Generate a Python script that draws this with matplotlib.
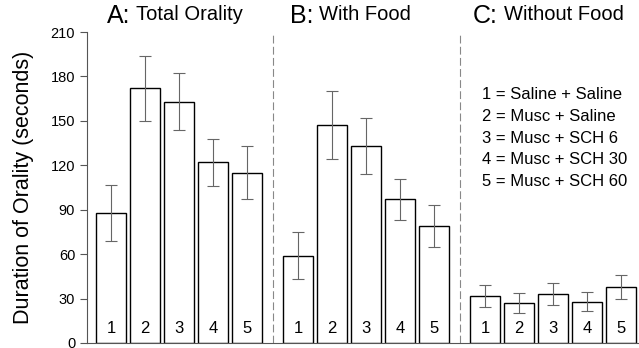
import matplotlib
matplotlib.use("Agg")
import matplotlib.pyplot as plt
import numpy as np

plt.rcParams['font.family'] = ['Liberation Sans', 'DejaVu Sans']

groups = ["A", "B", "C"]
group_titles = ["Total Orality", "With Food", "Without Food"]
bar_labels = ["1", "2", "3", "4", "5"]
total_vals = [88, 172, 163, 122, 115]
total_err = [19, 22, 19, 16, 18]
food_vals = [59, 147, 133, 97, 79]
food_err = [16, 23, 19, 14, 14]
nofood_vals = [32, 27, 33, 28, 38]
nofood_err = [7.5, 7, 7.5, 6.5, 8]
legend_lines = ["1 = Saline + Saline", "2 = Musc + Saline", "3 = Musc + SCH 6",
                "4 = Musc + SCH 30", "5 = Musc + SCH 60"]
yticks = [0, 30, 60, 90, 120, 150, 180, 210]

W, H = 639, 348
fig = plt.figure(figsize=(W / 100, H / 100), dpi=100)
ax = fig.add_axes([87 / W, 1 - 343 / H, 1 - 87 / W, (343 - 32) / H])

vals = [total_vals, food_vals, nofood_vals]
errs = [total_err, food_err, nofood_err]
offsets = [0, 5.5, 11]
title_starts = [-0.12, 5.26, 10.65]
for g in range(3):
    x = np.arange(5) + offsets[g]
    ax.bar(x, vals[g], width=0.9, color="white", edgecolor="black", linewidth=1.0, zorder=2)
    ax.errorbar(x, vals[g], yerr=errs[g], fmt="none", ecolor="#666666",
                elinewidth=0.8, capsize=4, capthick=0.8, zorder=3)
    for xi, lab in zip(x, bar_labels):
        ax.text(xi, 5, lab, ha="center", va="bottom", fontsize=12, zorder=4)
    t = ax.annotate(groups[g] + ":", (title_starts[g], 213), xycoords="data",
                    ha="left", va="bottom", fontsize=18, annotation_clip=False)
    ax.annotate(group_titles[g], xy=(1, 0), xycoords=t, xytext=(4, 2.5),
                textcoords="offset points", ha="left", va="bottom", fontsize=14.5)

for xd in [(4 + 5.5) / 2, (9.5 + 11) / 2]:
    ax.plot([xd, xd], [0, 210], color="#888888", linestyle=(0, (7, 3)), linewidth=0.8,
            zorder=1, clip_on=False)

for i, line in enumerate(legend_lines):
    ax.text(10.91, 168 - i * 14.8, line, ha="left", va="center", fontsize=12)

ax.set_xlim(-0.71, 15.53)
ax.set_ylim(0, 210)
ax.set_yticks(yticks)
ax.tick_params(axis="y", labelsize=10.5, length=5, width=0.8, direction="out", color="#555555")
ax.tick_params(axis="x", length=0, labelbottom=False)
ax.spines["top"].set_visible(False)
ax.spines["right"].set_visible(False)
ax.spines["left"].set_color("#555555")
ax.spines["left"].set_linewidth(0.8)
ax.spines["bottom"].set_color("#555555")
ax.spines["bottom"].set_linewidth(0.8)
ax.set_ylabel("Duration of Orality (seconds)", fontsize=15.5, labelpad=12)

fig.savefig("out.png", dpi=100)
